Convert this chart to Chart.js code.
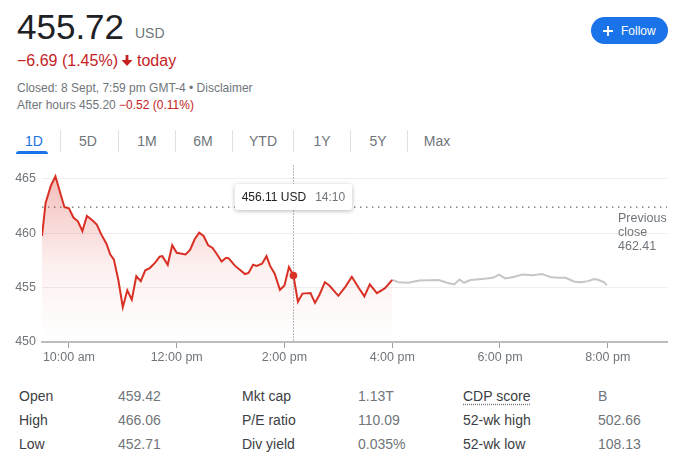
<!DOCTYPE html>
<html><head><meta charset="utf-8">
<script src="https://cdn.jsdelivr.net/npm/chart.js@4"></script>
<style>
body{margin:0;width:700px;height:464px;overflow:hidden;background:#fff;font-family:"Liberation Sans",Arial,sans-serif;position:relative}
.a{position:absolute;white-space:nowrap}
.tab{position:absolute;width:50px;text-align:center;font-size:14px;line-height:14px;top:134px;color:#70757a}
.sep{position:absolute;width:1px;top:130px;height:22px;background:#e0e0e0}
.t{position:absolute;white-space:nowrap;font-size:14px;line-height:14px}
</style></head><body>
<div class="a" style="left:17px;top:9px;font-size:35px;line-height:35px;color:#202124">455.72</div>
<div class="a" style="left:135px;top:26px;font-size:14px;line-height:14px;color:#70757a">USD</div>
<div class="a" style="left:17px;top:52.5px;font-size:16px;line-height:16px;color:#c5221f">−6.69 (1.45%)</div>
<svg class="a" style="left:121px;top:55px" width="12" height="11" viewBox="0 0 12 11"><path fill="#c5221f" d="M4.6 0H7.4V5H11.5L6 11L0.5 5H4.6Z"/></svg>
<div class="a" style="left:137px;top:52.5px;font-size:16px;line-height:16px;color:#c5221f">today</div>
<div class="a" style="left:17px;top:81.8px;font-size:12px;line-height:12px;color:#70757a">Closed: 8 Sept, 7:59 pm GMT-4 • Disclaimer</div>
<div class="a" style="left:17px;top:98.8px;font-size:12px;line-height:12px;color:#70757a">After hours 455.20 <span style="color:#c5221f">−0.52 (0.11%)</span></div>
<div class="a" style="left:591px;top:17px;width:77px;height:27px;border-radius:14px;background:#1a73e8"></div>
<svg class="a" style="left:603px;top:26px" width="10" height="10" viewBox="0 0 10 10"><path d="M5 0V10M0 5H10" stroke="#fff" stroke-width="1.8"/></svg>
<div class="a" style="left:621px;top:25px;font-size:12px;line-height:12px;color:#fff">Follow</div>
<div id="tabs"></div>
<div id="table"></div>
<canvas id="c" width="700" height="215" style="position:absolute;left:0;top:160px"></canvas>
<script>
// ---- data ----
const sessionTimes = ["9:30","9:34","9:40","9:45","9:50","9:55","10:00","10:05","10:10","10:15","10:20","10:26","10:31","10:36","10:42","10:46","10:50","10:55","11:00","11:05","11:10","11:15","11:20","11:25","11:30","11:36","11:41","11:44","11:50","11:55","12:00","12:10","12:15","12:20","12:25","12:30","12:35","12:40","12:45","12:50","12:55","12:58","13:05","13:11","13:16","13:20","13:25","13:29","13:35","13:40","13:44","13:49","13:55","14:00","14:05","14:10","14:15","14:20","14:29","14:34","14:39","14:45","14:50","15:00","15:08","15:15","15:23","15:29","15:35","15:43","15:52","16:00"];
const sessionPrices = [459.75,462.8,464.4,465.25,463.8,462.4,462.3,461.45,461.1,460.2,461.6,461.2,460.8,459.9,459.0,458.05,457.6,455.7,453.2,454.75,453.9,456.05,455.6,456.6,456.8,457.3,457.85,457.9,457.1,458.9,458.2,458.05,458.5,459.45,460.05,459.75,458.9,458.65,458.05,457.4,457.75,457.7,457.0,456.6,456.25,456.35,457.1,457.0,457.2,457.9,457.0,456.3,454.8,455.2,456.9,456.11,453.7,454.45,454.5,453.6,454.35,455.5,455.2,454.25,455.1,456.0,454.95,454.2,455.3,454.5,454.95,455.72];
const afterTimes = ["16:00","16:07","16:18","16:30","16:52","17:01","17:09","17:15","17:20","17:27","17:40","17:52","17:59","18:06","18:16","18:25","18:36","18:47","18:57","19:06","19:13","19:23","19:30","19:38","19:45","19:50","19:56","19:59"];
const afterPrices = [455.72,455.5,455.45,455.65,455.7,455.45,455.3,455.75,455.45,455.7,455.8,455.9,456.2,455.85,456.0,456.2,456.15,456.25,455.95,455.9,455.9,455.55,455.5,455.6,455.8,455.7,455.5,455.2];
const previousClose = 462.41;
const axisStart = "9:30", axisEnd = "21:06";
const xTickTimes = ["10:00","12:00","14:00","16:00","18:00","20:00"];
const xTickLabels = ["10:00 am","12:00 pm","2:00 pm","4:00 pm","6:00 pm","8:00 pm"];
const yTicks = [450,455,460,465];
const yMin = 450, yMax = 465.5;
const hoverTime = "14:10";
const tabs = ["1D","5D","1M","6M","YTD","1Y","5Y","Max"];
const statLabels1 = ["Open","High","Low"], statValues1 = ["459.42","466.06","452.71"];
const statLabels2 = ["Mkt cap","P/E ratio","Div yield"], statValues2 = ["1.13T","110.09","0.035%"];
const statLabels3 = ["CDP score","52-wk high","52-wk low"], statValues3 = ["B","502.66","108.13"];

// ---- html parts ----
const tabCenters=[34,88,147,203,263,322,378,437], sepX=[60,118,175,232,293,350,407];
let th='';
tabs.forEach((t,i)=>{th+=`<div class="tab" style="left:${tabCenters[i]-25}px;${i==0?'color:#1a73e8':''}">${t}</div>`;});
sepX.forEach(x=>{th+=`<div class="sep" style="left:${x}px"></div>`;});
th+='<div class="a" style="left:16px;top:151px;width:32px;height:3px;background:#1a73e8;border-radius:3px 3px 0 0"></div>';
document.getElementById('tabs').innerHTML=th;
const colX=[19,118,242,358,463,598], rowTop=[389,413,437];
let tb='';
[[statLabels1,statValues1],[statLabels2,statValues2],[statLabels3,statValues3]].forEach((pair,c)=>{
  pair[0].forEach((l,r)=>{
    const u = l==="CDP score" ? 'text-decoration:underline dotted #70757a;text-underline-offset:3px;' : '';
    tb+=`<div class="t" style="left:${colX[c*2]}px;top:${rowTop[r]}px;color:#3c4043;${u}">${l}</div>`;
    tb+=`<div class="t" style="left:${colX[c*2+1]}px;top:${rowTop[r]}px;color:#70757a">${pair[1][r]}</div>`;
  });
});
document.getElementById('table').innerHTML=tb;

// ---- chart ----
const toMin = s => { const [h,m]=s.split(':').map(Number); return h*60+m; };
const FONT = '"Liberation Sans", Arial, sans-serif';
const xMinV = toMin(axisStart), xMaxV = toMin(axisEnd);
const xTickVals = xTickTimes.map(toMin);
const sessionData = sessionTimes.map((t,i)=>({x:toMin(t),y:sessionPrices[i]}));
const afterData = afterTimes.map((t,i)=>({x:toMin(t),y:afterPrices[i]}));
const prevData = [{x:xMinV,y:previousClose},{x:xMaxV,y:previousClose}];
const hoverIdx = sessionTimes.indexOf(hoverTime);

const overlay = {
  id:'overlay',
  afterDatasetsDraw(chart){
    const ctx=chart.ctx, xs=chart.scales.x, ys=chart.scales.y, ca=chart.chartArea;
    const py = ys.getPixelForValue(previousClose);
    ctx.save();
    ctx.font = '12.5px '+FONT; ctx.fillStyle='#70757a'; ctx.textBaseline='alphabetic'; ctx.textAlign='left';
    const lx = ca.right-49;
    ['Previous','close',previousClose.toFixed(2)].forEach((s,i)=>ctx.fillText(s,lx,py+14.5+i*14));
    const px = xs.getPixelForValue(toMin(hoverTime));
    ctx.strokeStyle='#70757a'; ctx.lineWidth=1; ctx.setLineDash([1,2]);
    ctx.beginPath(); ctx.moveTo(Math.round(px)+0.5, ca.top-8); ctx.lineTo(Math.round(px)+0.5, ca.bottom); ctx.stroke();
    ctx.setLineDash([]);
    const my = ys.getPixelForValue(sessionPrices[hoverIdx]);
    ctx.fillStyle='#d93025'; ctx.beginPath(); ctx.arc(px,my,3.8,0,Math.PI*2); ctx.fill();
    ctx.font='12px '+FONT;
    const t1 = sessionPrices[hoverIdx].toFixed(2)+' USD', t2 = hoverTime;
    const w1 = ctx.measureText(t1).width, w2 = ctx.measureText(t2).width;
    const bw = w1+w2+9+14, bh=26, bx = px - bw/2, by = ca.top+10.5;
    ctx.save();
    ctx.shadowColor='rgba(0,0,0,0.28)'; ctx.shadowBlur=4; ctx.shadowOffsetY=1;
    ctx.fillStyle='#fff'; ctx.beginPath(); ctx.roundRect(bx,by,bw,bh,3); ctx.fill();
    ctx.restore();
    ctx.textBaseline='middle';
    ctx.fillStyle='#202124'; ctx.fillText(t1,bx+7,by+bh/2+0.5);
    ctx.fillStyle='#70757a'; ctx.fillText(t2,bx+7+w1+9,by+bh/2+0.5);
    ctx.restore();
  }
};

new Chart(document.getElementById('c'), {
  type:'line',
  data:{datasets:[
    {data:sessionData, borderColor:'#d93025', borderWidth:2, pointRadius:0, tension:0, fill:'start',
     backgroundColor:(c)=>{const ca=c.chart.chartArea; if(!ca) return 'rgba(217,48,37,0.1)';
       const g=c.chart.ctx.createLinearGradient(0,ca.top,0,ca.bottom);
       g.addColorStop(0,'rgba(217,48,37,0.32)'); g.addColorStop(0.55,'rgba(217,48,37,0.07)'); g.addColorStop(1,'rgba(217,48,37,0)'); return g;}},
    {data:afterData, borderColor:'#c6c6c6', borderWidth:2, pointRadius:0, tension:0, fill:false},
    {data:prevData, borderColor:'#5f6368', borderWidth:1.4, borderDash:[1.4,4.6], pointRadius:0, fill:false}
  ]},
  options:{
    responsive:false, animation:false, devicePixelRatio:1,
    layout:{padding:{top:8,right:33,left:0,bottom:0}},
    plugins:{legend:{display:false},tooltip:{enabled:false}},
    scales:{
      x:{type:'linear',min:xMinV,max:xMaxV,
        afterBuildTicks:(s)=>{s.ticks=xTickVals.map(v=>({value:v}));},
        afterFit:(s)=>{s.height=33;},
        ticks:{autoSkip:false,maxRotation:0,padding:2,color:'#70757a',font:{family:FONT,size:12.5},
          callback:(v)=>xTickLabels[xTickVals.indexOf(v)]},
        grid:{drawOnChartArea:false,drawTicks:true,tickLength:6,tickColor:'#9aa0a6',color:'#9aa0a6'},
        border:{display:true,color:'#bdbdbd',width:2}},
      y:{min:yMin,max:yMax,
        afterBuildTicks:(s)=>{s.ticks=yTicks.map(v=>({value:v}));},
        afterFit:(s)=>{s.width=42;},
        ticks:{padding:6,color:'#70757a',font:{family:FONT,size:12.5}},
        grid:{color:'#eeeeee',drawTicks:false},
        border:{display:false}}
    }
  },
  plugins:[overlay]
});
</script>
</body></html>
